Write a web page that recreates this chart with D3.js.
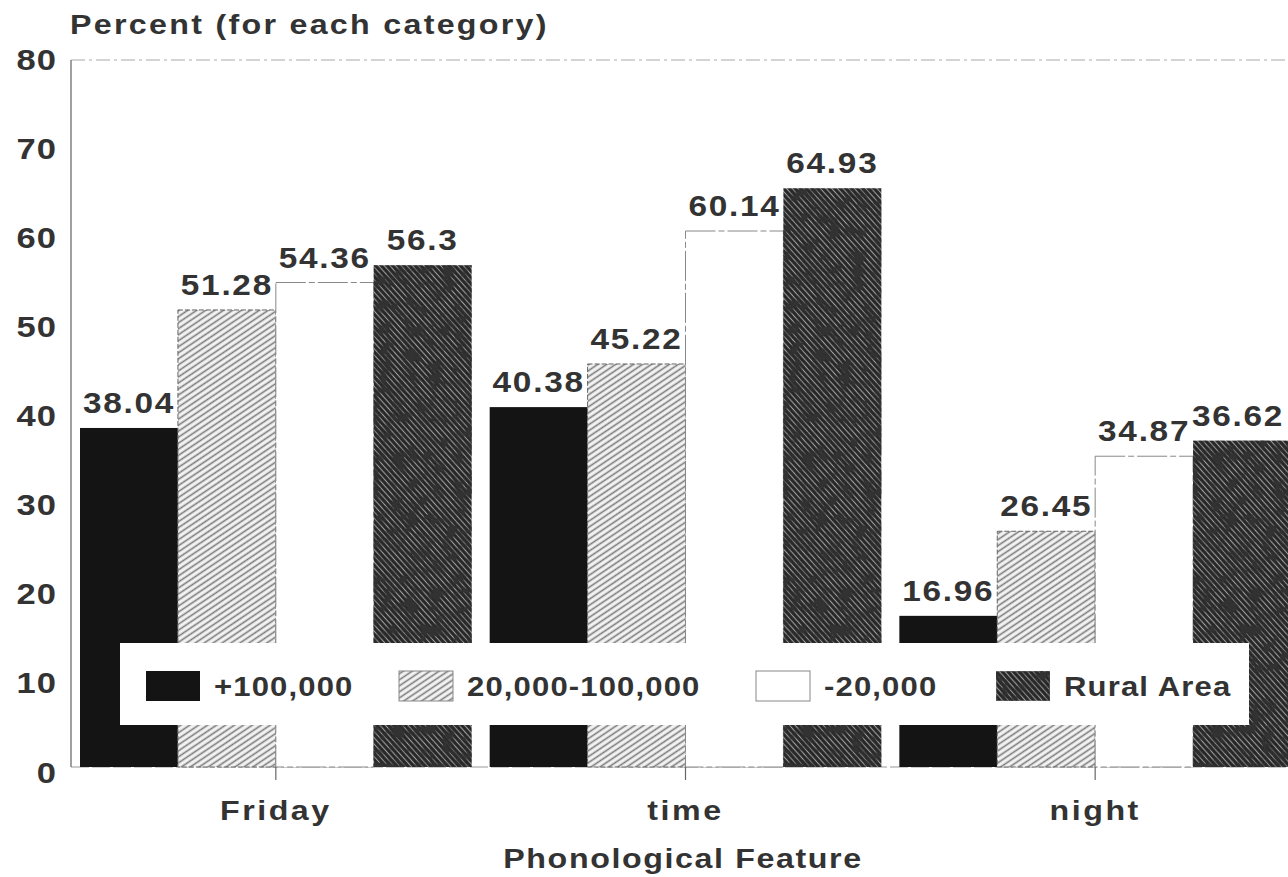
<!DOCTYPE html>
<html>
<head>
<meta charset="utf-8">
<script src="https://cdnjs.cloudflare.com/ajax/libs/d3/7.8.5/d3.min.js"></script>
<style>
  body { margin: 0; background: #fff; }
  svg text { font-family: "Liberation Sans", Arial, sans-serif; font-weight: bold; fill: #333; }
</style>
</head>
<body>
<svg id="chart" width="1288" height="877"></svg>
<script>
// data
const categories = ["Friday", "time", "night"];
const seriesNames = ["+100,000", "20,000-100,000", "-20,000", "Rural Area"];
const big = [38.04, 40.38, 16.96];      // +100,000
const mid = [51.28, 45.22, 26.45];      // 20,000-100,000
const small = [54.36, 60.14, 34.87];    // -20,000
const rural = [56.3, 64.93, 36.62];     // Rural Area
const yTicks = [0, 10, 20, 30, 40, 50, 60, 70, 80];

const seriesValues = [big, mid, small, rural];
const rows = categories.map((c, i) => ({
  cat: c,
  vals: seriesNames.map((s, j) => ({ key: s, idx: j, v: seriesValues[j][i] }))
}));

const svg = d3.select("#chart");
const sx = 1.15;       // glyphs in the scan are wide
const fs = 28;
const W = 1288;

// patterns
var defs = svg.append("defs");

var hatch = defs.append("pattern")
  .attr("id", "hatch")
  .attr("patternUnits", "userSpaceOnUse")
  .attr("width", 8).attr("height", 5)
  .attr("patternTransform", "rotate(-34)");
hatch.append("rect").attr("width", 8).attr("height", 5).attr("fill", "#f4f4f4");
hatch.append("line").attr("x1", 0).attr("x2", 8).attr("y1", 2.5).attr("y2", 2.5)
  .attr("stroke", "#7a7a7a").attr("stroke-width", 1.6);

var ruralPat = defs.append("pattern")
  .attr("id", "rural")
  .attr("patternUnits", "userSpaceOnUse")
  .attr("width", 8).attr("height", 4.2)
  .attr("patternTransform", "rotate(48)");
ruralPat.append("rect").attr("width", 8).attr("height", 4.2).attr("fill", "#262626");
ruralPat.append("line").attr("x1", 0).attr("x2", 8).attr("y1", 2.1).attr("y2", 2.1)
  .attr("stroke", "#a0a0a0").attr("stroke-width", 1.1);

// dark blotches over the rural texture
var grain = defs.append("filter").attr("id", "grain")
  .attr("x", 0).attr("y", 0).attr("width", 1).attr("height", 1);
grain.append("feTurbulence").attr("type", "fractalNoise")
  .attr("baseFrequency", 0.08).attr("numOctaves", 3).attr("seed", 7).attr("result", "noise");
grain.append("feColorMatrix").attr("in", "noise").attr("type", "matrix")
  .attr("values", "0 0 0 0 0.03  0 0 0 0 0.03  0 0 0 0 0.03  0 0 0 -3.4 2.05")
  .attr("result", "spots");
grain.append("feComposite").attr("in", "spots").attr("in2", "SourceGraphic")
  .attr("operator", "in").attr("result", "clipped");
var merge = grain.append("feMerge");
merge.append("feMergeNode").attr("in", "SourceGraphic");
merge.append("feMergeNode").attr("in", "clipped");

const fills = ["#141414", "url(#hatch)", "#ffffff", "url(#rural)"];
const strokes = ["none", "#666", "#888", "none"];

// scales
const y = d3.scaleLinear().domain([0, 80]).range([767, 54]);
const x0 = d3.scaleBand().domain(categories).range([71, 1300]).paddingInner(0.044).paddingOuter(0.022);
const x1 = d3.scaleBand().domain(seriesNames).range([0, x0.bandwidth()]);

// plot frame: faint top and bottom lines
svg.append("line").attr("x1", 71).attr("x2", W).attr("y1", y(80) + 6).attr("y2", y(80) + 6)
  .attr("stroke", "#aaa").attr("stroke-width", 1.2).attr("stroke-dasharray", "14,4,3,4");
svg.append("line").attr("x1", 71).attr("x2", W).attr("y1", y(0)).attr("y2", y(0))
  .attr("stroke", "#999").attr("stroke-width", 1.2).attr("stroke-dasharray", "18,3");

// bars
const groups = svg.append("g").selectAll("g").data(rows).join("g")
  .attr("transform", d => `translate(${x0(d.cat)},0)`);

groups.selectAll("rect").data(d => d.vals).join("rect")
  .attr("x", d => x1(d.key))
  .attr("y", d => y(d.v))
  .attr("width", x1.bandwidth())
  .attr("height", d => y(0) - y(d.v))
  .attr("fill", d => fills[d.idx])
  .attr("stroke", d => strokes[d.idx])
  .attr("stroke-width", 1)
  .attr("stroke-dasharray", d => d.idx === 1 ? "5,2" : (d.idx === 2 ? "30,3,6,3" : null))
  .attr("filter", d => d.idx === 3 ? "url(#grain)" : null);

groups.selectAll("text.val").data(d => d.vals).join("text")
  .attr("class", "val")
  .attr("text-anchor", "middle")
  .attr("font-size", fs + 1)
  .attr("letter-spacing", 1.5)
  .attr("transform", function (d) {
    const g = d3.select(this.parentNode).datum();
    let cx = x1(d.key) + x1.bandwidth() / 2;
    // keep the last label inside the picture
    cx = Math.min(cx, W - 50 - x0(g.cat));
    return `translate(${cx},${y(d.v) - 15}) scale(${sx},1)`;
  })
  .text(d => String(d.v));

// y axis
const yAxis = svg.append("g")
  .attr("transform", "translate(71,0)")
  .call(d3.axisLeft(y).tickValues(yTicks).tickSize(0).tickSizeOuter(0).tickPadding(12));
yAxis.select(".domain").attr("stroke", "#777").attr("stroke-width", 1.4)
  .attr("d", `M0,${y(80) + 6}V${y(0)}`);
yAxis.selectAll("text")
  .attr("font-size", fs + 2)
  .attr("letter-spacing", 1)
  .attr("dy", "0.5em")
  .attr("fill", "#333")
  .attr("transform", `scale(${sx},1)`);

// x axis
const xAxis = svg.append("g")
  .attr("transform", `translate(0,${y(0)})`)
  .call(d3.axisBottom(x0).tickSize(13).tickPadding(20));
xAxis.select(".domain").remove();
xAxis.selectAll(".tick line").attr("stroke", "#666").attr("stroke-width", 1.2);
xAxis.selectAll("text")
  .attr("font-size", fs)
  .attr("letter-spacing", 2.2)
  .attr("fill", "#333")
  .attr("transform", `scale(${sx},1)`);

// legend
const legend = svg.append("g");
legend.append("rect").attr("x", 120).attr("y", 643).attr("width", 1129).attr("height", 82)
  .attr("fill", "#fff");
const legendX = [146, 399, 756, 996];
const items = legend.selectAll("g.item").data(seriesNames).join("g")
  .attr("class", "item")
  .attr("transform", (d, i) => `translate(${legendX[i]},671)`);
items.append("rect")
  .attr("width", 54).attr("height", 30)
  .attr("fill", (d, i) => fills[i])
  .attr("stroke", (d, i) => i === 0 ? "none" : "#888")
  .attr("stroke-width", 1)
  .attr("filter", (d, i) => i === 3 ? "url(#grain)" : null);
items.append("text")
  .attr("font-size", fs - 1)
  .attr("letter-spacing", 1)
  .attr("dy", "0.35em")
  .attr("transform", `translate(68,16) scale(${sx},1)`)
  .text(d => d);

// axis titles
svg.append("text")
  .attr("transform", `translate(70,34) scale(${sx},1)`)
  .attr("font-size", fs)
  .attr("letter-spacing", 2)
  .text("Percent (for each category)");

svg.append("text")
  .attr("transform", `translate(683,868) scale(${sx},1)`)
  .attr("text-anchor", "middle")
  .attr("font-size", fs)
  .attr("letter-spacing", 1.4)
  .text("Phonological Feature");
</script>
</body>
</html>
